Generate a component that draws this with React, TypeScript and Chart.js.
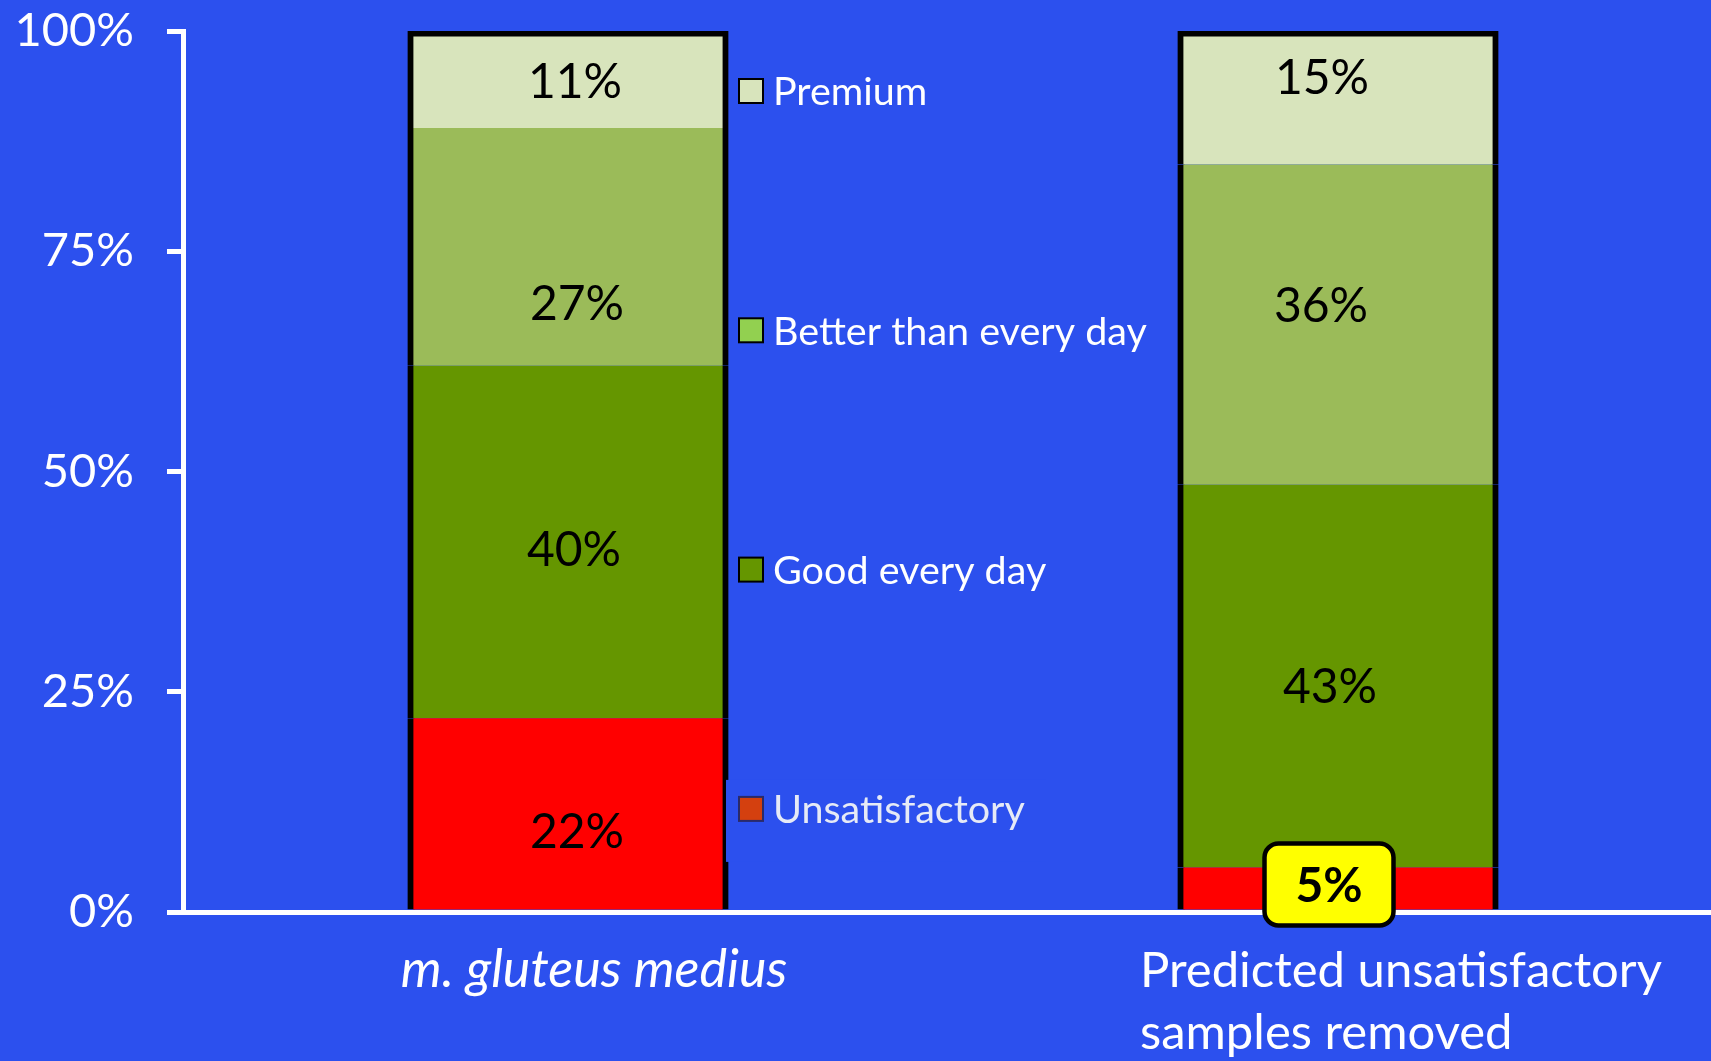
import { useEffect, useRef } from 'react';
import { Chart, registerables } from 'chart.js';

Chart.register(...registerables);

// Categories (each entry is a list of text lines)
const categories: string[][] = [['m. gluteus medius'], ['Predicted unsatisfactory', 'samples removed']];

// Series, bottom of the stack first
const seriesNames = ['Unsatisfactory', 'Good every day', 'Better than every day', 'Premium'];
const unsatisfactory = [22, 5];
const goodEveryDay = [40, 43];
const betterThanEveryDay = [27, 36];
const premium = [11, 15];

// Value axis ticks (percent)
const yTicks = [0, 25, 50, 75, 100];

const seriesValues = [unsatisfactory, goodEveryDay, betterThanEveryDay, premium];

// Styling
const BG = '#2C50EE';
const FONT = 'Lato, "Open Sans", "DejaVu Sans", sans-serif';
const BAR_COLORS = ['#FF0000', '#659600', '#9BBB59', '#D8E4BC'];
const SWATCH_COLORS = ['#D4400F', '#659600', '#92D050', '#D8E4BC'];
const SWATCH_BORDERS = ['#2A2A6A', '#000000', '#000000', '#000000'];
const OUTLINE = 6;
// The plot runs a little past the right edge of the view, like the slide it comes from
const CANVAS_W = 1723;
const CANVAS_H = 1061;

// Per-label nudges [dx, dy] in px from the centre of each segment: [category][series]
const LABEL_NUDGE: number[][][] = [
  [[9, 17], [6, 7], [9, 56], [7, 1]],
  [[-9, -4], [-8, 10], [-17, -20], [-16, -21]],
];
// The callout box marks the remaining unsatisfactory share
const CALLOUT = { series: 0, index: 1 };

// Category label placement relative to the bar centre
const X_LABEL_LAYOUT = [
  { dx: 26, align: 'center' as CanvasTextAlign, italic: true, size: 52 },
  { dx: -198, align: 'left' as CanvasTextAlign, italic: false, size: 49 },
];

function roundRect(ctx: CanvasRenderingContext2D, x: number, y: number, w: number, h: number, r: number) {
  ctx.beginPath();
  ctx.moveTo(x + r, y);
  ctx.lineTo(x + w - r, y);
  ctx.arcTo(x + w, y, x + w, y + r, r);
  ctx.lineTo(x + w, y + h - r);
  ctx.arcTo(x + w, y + h, x + w - r, y + h, r);
  ctx.lineTo(x + r, y + h);
  ctx.arcTo(x, y + h, x, y + h - r, r);
  ctx.lineTo(x, y + r);
  ctx.arcTo(x, y, x + r, y, r);
  ctx.closePath();
}

const overlayPlugin = {
  id: 'overlay',
  afterDraw(chart: any) {
    const { ctx, chartArea } = chart;
    ctx.save();

    // Segment value labels
    const labelSize = 48;
    seriesValues.forEach((values, si) => {
      const meta = chart.getDatasetMeta(si);
      meta.data.forEach((bar: any, i: number) => {
        const { x, y, base } = bar.getProps(['x', 'y', 'base'], true);
        const [dx, dy] = LABEL_NUDGE[i][si];
        const cx = x + dx;
        const cy = (y + base) / 2 + dy;
        const text = `${values[i]}%`;
        const isCallout = si === CALLOUT.series && i === CALLOUT.index;
        ctx.font = `${isCallout ? 'bold ' : ''}${labelSize}px ${FONT}`;
        ctx.textAlign = 'center';
        ctx.textBaseline = 'alphabetic';
        if (isCallout) {
          const w = 129;
          const h = 82;
          roundRect(ctx, cx - w / 2, cy - h / 2, w, h, 14);
          ctx.fillStyle = '#FFFF00';
          ctx.fill();
          ctx.lineWidth = 4.5;
          ctx.strokeStyle = '#000000';
          ctx.stroke();
        }
        ctx.fillStyle = '#000000';
        ctx.fillText(text, cx, cy + labelSize * 0.36);
      });
    });

    // Legend beside the first bar
    const firstBar = chart.getDatasetMeta(0).data[0];
    const barRight = firstBar.x + firstBar.width / 2;
    const swatchX = barRight + 11;
    const legendSize = 39.5;
    const rowGap = 239.3;
    const rows = [3, 2, 1, 0];
    rows.forEach((si, r) => {
      const cy = chartArea.top + 60 + r * rowGap;
      if (si === 0) {
        // pasted legend entry sits on its own patch of background
        ctx.fillStyle = BG;
        ctx.fillRect(barRight - 2, cy - 29, 320, 82);
      }
      ctx.fillStyle = SWATCH_COLORS[si];
      ctx.fillRect(swatchX, cy - 12, 24, 24);
      ctx.lineWidth = 2;
      ctx.strokeStyle = SWATCH_BORDERS[si];
      ctx.strokeRect(swatchX, cy - 12, 24, 24);
      ctx.font = `${legendSize}px ${FONT}`;
      ctx.textAlign = 'left';
      ctx.textBaseline = 'alphabetic';
      if (si === 0) {
        ctx.save();
        ctx.filter = 'blur(0.6px)';
        ctx.fillStyle = '#E6EAF6';
        ctx.fillText(seriesNames[si], swatchX + 34, cy + legendSize * 0.36);
        ctx.restore();
      } else {
        ctx.fillStyle = '#FFFFFF';
        ctx.fillText(seriesNames[si], swatchX + 34, cy + legendSize * 0.36);
      }
    });

    // Category labels under the bars
    const xScale = chart.scales.x;
    categories.forEach((lines, i) => {
      const layout = X_LABEL_LAYOUT[i];
      const cx = xScale.getPixelForValue(i) + layout.dx;
      ctx.font = `${layout.italic ? 'italic ' : ''}${layout.size}px ${FONT}`;
      ctx.fillStyle = '#FFFFFF';
      ctx.textAlign = layout.align;
      ctx.textBaseline = 'alphabetic';
      lines.forEach((line, li) => {
        ctx.fillText(line, cx, chartArea.bottom + 75 + li * 62);
      });
    });

    ctx.restore();
  },
};

export default function App() {
  const canvasRef = useRef<HTMLCanvasElement | null>(null);

  useEffect(() => {
    const canvas = canvasRef.current;
    if (!canvas) return;

    const datasets = seriesValues.map((values, si) => ({
      label: seriesNames[si],
      // 100% stacked: each bar is scaled to its category total
      data: values.map((v, i) => {
        const total = seriesValues.reduce((s, arr) => s + arr[i], 0);
        return (v / total) * 100;
      }),
      backgroundColor: BAR_COLORS[si],
      borderColor: '#000000',
      borderWidth: {
        left: OUTLINE,
        right: OUTLINE,
        top: si === seriesValues.length - 1 ? OUTLINE : 0,
        bottom: 0,
      },
      borderSkipped: false as const,
      inflateAmount: 0.6,
      barPercentage: 320 / 770,
      categoryPercentage: 1,
    }));

    const chart = new Chart(canvas, {
      type: 'bar',
      data: {
        labels: categories.map((c) => c.join(' ')),
        datasets,
      },
      options: {
        responsive: false,
        animation: false,
        devicePixelRatio: 1,
        layout: { padding: { top: 31, left: 0, right: 0, bottom: 0 } },
        plugins: {
          legend: { display: false },
          tooltip: { enabled: false },
        },
        scales: {
          x: {
            stacked: true,
            z: 1,
            grid: { display: true, drawOnChartArea: false, drawTicks: false, lineWidth: 0, color: 'rgba(0,0,0,0)' },
            border: { display: true, color: '#FFFFFF', width: 5 },
            ticks: { display: false },
            afterFit: (scale: any) => {
              scale.height = 149;
            },
          },
          y: {
            stacked: true,
            min: 0,
            max: 100,
            z: 1,
            afterBuildTicks: (scale: any) => {
              scale.ticks = yTicks.map((v) => ({ value: v }));
            },
            afterFit: (scale: any) => {
              scale.width = 183;
              scale.paddingTop = 0;
              scale.paddingBottom = 0;
            },
            grid: {
              drawOnChartArea: false,
              drawTicks: true,
              tickLength: 16,
              tickWidth: 5,
              tickColor: '#FFFFFF',
              color: '#FFFFFF',
              lineWidth: 5,
            },
            border: { display: true, color: '#FFFFFF', width: 5 },
            ticks: {
              color: '#FFFFFF',
              padding: 33,
              font: { family: FONT, size: 47 },
              callback: (v: any) => `${v}%`,
            },
          },
        },
      },
      plugins: [overlayPlugin],
    });

    return () => chart.destroy();
  }, []);

  return (
    <div
      style={{
        position: 'fixed',
        left: 0,
        top: 0,
        width: 1711,
        height: 1061,
        background: BG,
        overflow: 'hidden',
      }}
    >
      <canvas ref={canvasRef} width={CANVAS_W} height={CANVAS_H} style={{ display: 'block' }} />
    </div>
  );
}
